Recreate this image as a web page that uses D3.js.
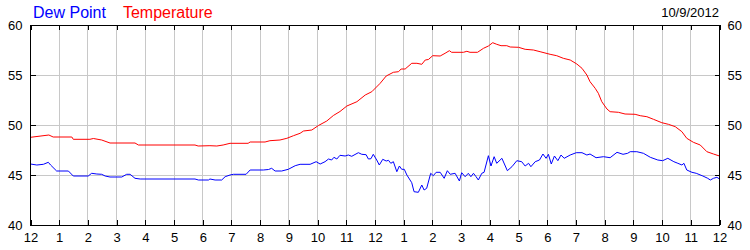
<!DOCTYPE html>
<html>
<head>
<meta charset="utf-8">
<script src="https://cdn.jsdelivr.net/npm/d3@7"></script>
<style>
  body { margin: 0; background: #fff; }
  svg { display: block; font-family: "Liberation Sans", Arial, sans-serif; }
  .axis text { font-size: 13px; fill: #000; }
  .axis path { display: none; }
  .axis line { stroke: #000; shape-rendering: crispEdges; }
  .grid line { stroke: #c8c8c8; shape-rendering: crispEdges; }
</style>
</head>
<body>
<div id="chart"></div>
<script>
// hour labels along the bottom, midnight to midnight
const hourLabels = ["12","1","2","3","4","5","6","7","8","9","10","11",
                    "12","1","2","3","4","5","6","7","8","9","10","11","12"];
const yTickValues = [40, 45, 50, 55, 60];
const chartDate = "10/9/2012";

// temperature readings (hours since midnight, degrees F)
const tempHours = [0.00,0.64,0.79,1.44,1.49,2.07,2.19,2.48,2.77,3.64,3.76,5.73,5.84,6.25,6.49,6.71,6.95,7.58,7.65,8.17,
  8.34,8.69,8.93,9.16,9.39,9.51,9.80,10.03,10.32,10.55,10.78,11.02,11.37,11.66,11.89,12.18,12.39,12.64,12.82,12.91,
  13.05,13.28,13.46,13.63,13.75,13.86,14.01,14.27,14.44,14.59,14.67,15.08,15.20,15.31,15.57,15.78,15.95,16.10,16.24,16.39,
  16.59,16.71,17.00,17.23,17.52,17.75,18.10,18.33,18.56,18.80,19.03,19.21,19.38,19.49,19.67,19.78,19.90,20.08,20.19,20.48,
  20.71,21.06,21.24,21.47,21.70,21.99,22.22,22.46,22.69,22.86,23.09,23.33,23.56,23.79,24.00];
const tempValues = [48.77,49.0,48.8,48.8,48.57,48.57,48.65,48.5,48.2,48.2,48.0,48.0,47.9,47.93,47.9,48.0,48.17,48.17,48.3,48.3,
  48.43,48.5,48.67,48.93,49.17,49.4,49.5,49.95,50.4,50.95,51.35,51.9,52.33,53.0,53.33,54.17,54.9,55.27,55.33,55.6,
  55.6,56.17,56.17,56.07,56.5,56.55,56.93,56.9,57.17,57.43,57.27,57.27,57.37,57.27,57.27,57.67,57.9,58.23,58.07,57.93,
  57.93,57.8,57.77,57.57,57.5,57.33,57.07,56.93,56.67,56.5,56.1,55.67,55.0,54.33,53.67,53.17,52.33,51.6,51.33,51.27,
  51.1,51.07,50.93,50.83,50.57,50.23,50.07,49.83,49.33,48.67,48.27,48.0,47.33,47.1,46.9];

// dew point readings (hours since midnight, degrees F)
const dewHours = [0.00,0.22,0.45,0.62,0.70,0.91,1.32,1.49,2.01,2.13,2.31,2.48,2.60,2.77,3.18,3.35,3.47,3.64,3.82,5.73,
  5.85,6.20,6.25,6.43,6.66,6.78,6.95,7.07,7.51,7.65,8.11,8.29,8.40,8.52,8.75,8.98,9.22,9.39,9.74,9.95,
  10.09,10.26,10.38,10.49,10.57,10.67,10.78,10.96,11.07,11.19,11.42,11.54,11.69,11.77,11.86,11.94,12.06,12.15,12.27,12.39,
  12.47,12.55,12.64,12.76,12.85,12.93,13.02,13.11,13.28,13.36,13.51,13.63,13.71,13.80,13.94,14.03,14.13,14.27,14.41,14.52,
  14.62,14.79,14.94,15.02,15.14,15.25,15.34,15.43,15.52,15.60,15.72,15.80,15.95,16.04,16.15,16.24,16.42,16.61,16.77,16.94,
  17.11,17.23,17.35,17.43,17.58,17.73,17.85,17.96,18.04,18.14,18.25,18.37,18.48,18.59,18.80,19.01,19.21,19.38,19.49,19.70,
  19.96,20.19,20.43,20.64,20.80,20.89,21.12,21.35,21.59,21.85,22.02,22.20,22.41,22.55,22.69,22.76,22.86,23.04,23.19,23.42,
  23.59,23.68,23.79,23.91,24.00];
const dewValues = [46.1,46.0,46.07,46.27,46.0,45.4,45.4,44.9,44.9,45.17,45.1,45.07,44.9,44.8,44.8,45.07,45.07,44.67,44.6,44.6,
  44.5,44.5,44.6,44.5,44.5,44.83,45.0,45.07,45.07,45.5,45.5,45.55,45.67,45.4,45.4,45.57,45.93,46.07,46.07,46.33,
  46.1,46.33,46.6,46.5,46.77,46.6,46.97,46.9,47.0,46.87,47.23,47.07,47.03,46.6,46.63,47.07,46.5,46.0,46.57,46.4,
  46.47,46.17,46.33,45.33,45.9,45.57,45.57,45.0,44.23,43.33,43.27,44.0,43.5,43.67,45.17,44.93,45.27,45.27,44.67,45.43,
  45.07,45.17,44.4,45.23,44.83,45.17,44.83,45.17,44.83,44.5,45.17,45.27,46.93,45.9,46.83,46.17,46.67,45.43,45.83,46.43,
  46.33,45.9,46.17,45.83,46.33,46.5,47.1,46.67,47.07,46.1,46.9,46.43,47.0,46.67,47.0,47.23,47.23,47.0,47.1,46.73,
  46.83,46.73,47.27,47.07,47.17,47.33,47.33,47.17,46.77,46.5,46.43,46.67,46.33,46.17,46.0,46.17,45.5,45.27,45.17,44.9,
  44.67,44.5,44.67,44.77,44.6];

function draw () {
  const width = 750;
  const height = 250;
  const marginTop = 25;
  const marginRight = 30.5;
  const marginBottom = 25;
  const marginLeft = 30.5;

  const svg = d3.select("#chart").append("svg")
    .attr("width", width)
    .attr("height", height);

  const x = d3.scaleLinear()
    .domain([0, 24])
    .range([marginLeft, width - marginRight]);

  const y = d3.scaleLinear()
    .domain([40, 60])
    .range([height - marginBottom, marginTop]);

  const hourTicks = d3.range(hourLabels.length);

  // light grey grid
  const grid = svg.append("g").attr("class", "grid");
  grid.selectAll("line.v")
    .data(hourTicks.slice(1, -1))
    .join("line")
      .attr("class", "v")
      .attr("x1", d => x(d)).attr("x2", d => x(d))
      .attr("y1", y(60)).attr("y2", y(40));
  grid.selectAll("line.h")
    .data(yTickValues.slice(1, -1))
    .join("line")
      .attr("class", "h")
      .attr("x1", x(0)).attr("x2", x(24))
      .attr("y1", d => y(d)).attr("y2", d => y(d));

  // series
  const line = d3.line()
    .x(d => x(d[0]))
    .y(d => y(d[1]));

  svg.append("path")
    .datum(d3.zip(dewHours, dewValues))
    .attr("fill", "none")
    .attr("stroke", "#0000ff")
    .attr("stroke-width", 1)
    .attr("d", line);

  svg.append("path")
    .datum(d3.zip(tempHours, tempValues))
    .attr("fill", "none")
    .attr("stroke", "#ff0000")
    .attr("stroke-width", 1)
    .attr("d", line);

  // axes, ticks point inward
  svg.append("g")
    .attr("class", "axis")
    .attr("transform", `translate(0,${y(40)})`)
    .call(d3.axisBottom(x).tickValues(hourTicks).tickFormat(i => hourLabels[i])
      .tickSizeInner(-5).tickSizeOuter(0).tickPadding(8));

  svg.append("g")
    .attr("class", "axis")
    .attr("transform", `translate(0,${y(60)})`)
    .call(d3.axisTop(x).tickValues(hourTicks).tickFormat("")
      .tickSizeInner(-5).tickSizeOuter(0));

  svg.append("g")
    .attr("class", "axis")
    .attr("transform", `translate(${x(0)},0)`)
    .call(d3.axisLeft(y).tickValues(yTickValues)
      .tickSizeInner(-5).tickSizeOuter(0).tickPadding(8));

  svg.append("g")
    .attr("class", "axis")
    .attr("transform", `translate(${x(24)},0)`)
    .call(d3.axisRight(y).tickValues(yTickValues)
      .tickSizeInner(-5).tickSizeOuter(0).tickPadding(8));

  // frame
  svg.append("rect")
    .attr("x", x(0)).attr("y", y(60))
    .attr("width", x(24) - x(0)).attr("height", y(40) - y(60))
    .attr("fill", "none")
    .attr("stroke", "#000")
    .attr("shape-rendering", "crispEdges");

  // legend and date
  const legend = svg.append("text")
    .attr("x", 33).attr("y", 18)
    .style("font-size", "16px");
  legend.append("tspan").attr("fill", "#0000ff").text("Dew Point");
  legend.append("tspan").attr("fill", "#ff0000").attr("dx", 17).text("Temperature");

  svg.append("text")
    .attr("x", 719).attr("y", 17)
    .attr("text-anchor", "end")
    .style("font-size", "13px")
    .attr("fill", "#000")
    .text(chartDate);
}

draw();
</script>
</body>
</html>
